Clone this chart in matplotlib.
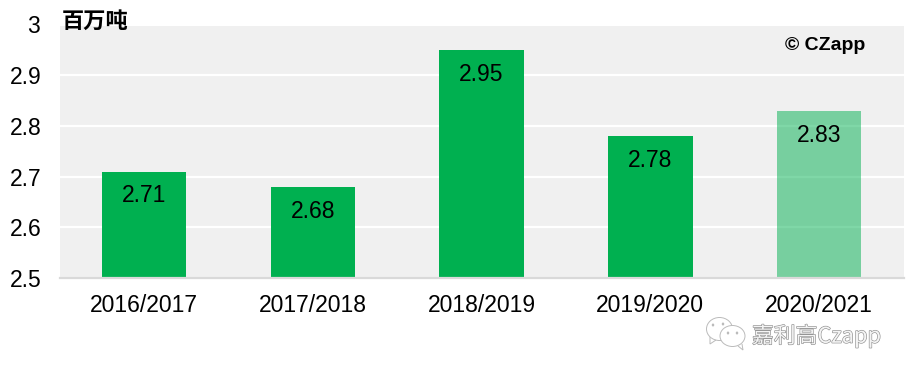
import matplotlib
matplotlib.use('Agg')
import matplotlib.pyplot as plt
import matplotlib.patheffects as pe
from matplotlib.patches import Ellipse, Polygon

plt.rcParams['font.family'] = ['Liberation Sans', 'DejaVu Sans']

# Data
seasons = ['2016/2017', '2017/2018', '2018/2019', '2019/2020', '2020/2021']
values = [2.71, 2.68, 2.95, 2.78, 2.83]
alphas = [1, 1, 1, 1, 0.5]
yticks = [2.5, 2.6, 2.7, 2.8, 2.9, 3.0]
ylabels = ['2.5', '2.6', '2.7', '2.8', '2.9', '3']

W, H = 911, 377
fig = plt.figure(figsize=(W/100, H/100), dpi=100)
ax = fig.add_axes([59.5/W, 1-278/H, 844/W, 252/H])
ax.set_facecolor('#F0F0F0')

x = range(len(seasons))
ax.set_xlim(-0.5, 4.5)
ax.set_ylim(2.5, 2.997)
ax.set_yticks(yticks[:-1])
ax.set_yticklabels(ylabels[:-1])
ax.set_xticks(list(x))
ax.set_xticklabels(seasons)
ax.yaxis.grid(True, color='white', lw=1.6)
ax.set_axisbelow(True)
ax.tick_params(axis='y', length=0, labelsize=16.5, pad=13, labelcolor='black')
ax.tick_params(axis='x', length=0, labelsize=16.5, pad=11.5, labelcolor='black')
for lab in ax.get_yticklabels():
    lab.set_va('center_baseline')
for s in ['top', 'left', 'right']:
    ax.spines[s].set_visible(False)
ax.spines['bottom'].set_color('#D9D9D9')
ax.spines['bottom'].set_linewidth(1.6)

# the last season is an estimate, so its bar is lighter
for i in x:
    ax.bar(i, values[i], bottom=0, width=0.5, color='#00B050', alpha=alphas[i], zorder=2)
    ax.text(i, values[i]-0.048, '%.2f' % values[i], ha='center', va='center', fontsize=16.5,
            color='black', zorder=3)

# The top tick label sits just above the grey panel
fig.text(39.5/W, 1-26.5/H, ylabels[-1], ha='right', va='center', fontsize=16.5)
fig.text(62/W, 1-21/H, '百万吨', ha='left', va='center', fontsize=16, fontweight='bold',
         family=['Noto Sans CJK SC', 'DejaVu Sans'])
fig.text(825.5/W, 1-45/H, '© CZapp', ha='center', va='center', fontsize=14, fontweight='bold',
         family=['Liberation Sans Narrow', 'Liberation Sans', 'DejaVu Sans'])

# WeChat watermark
wm = fig.text(752/W, 1-336/H, '嘉利高Czapp', ha='left', va='center', fontsize=15.7, color='#F4F4F4',
              family=['Noto Sans CJK SC', 'DejaVu Sans'])
wm.set_path_effects([pe.withStroke(linewidth=0.9, foreground='#8F8F8F')])

def bubble(cx, cy, w, h, tail):
    fig.add_artist(Ellipse((cx/W, 1-cy/H), w/W, h/H, transform=fig.transFigure,
                           fc='white', ec='#BBBBBB', lw=0.7))
    fig.add_artist(Polygon([(a/W, 1-b/H) for a, b in tail], closed=False, transform=fig.transFigure,
                           fill=False, ec='#BBBBBB', lw=0.7))
    return

bubble(719.5, 329, 26, 23, [(710, 337), (710, 344), (716, 340)])
bubble(732.5, 336, 25, 21, [(738, 346), (743, 350), (742, 344)])
for cx, cy in [(713, 325), (723, 324), (728, 333), (737, 333)]:
    fig.add_artist(Ellipse((cx/W, 1-cy/H), 2.5/W, 3/H, transform=fig.transFigure,
                           fc='#BBBBBB', ec='none'))

fig.savefig('out.png', dpi=100)
